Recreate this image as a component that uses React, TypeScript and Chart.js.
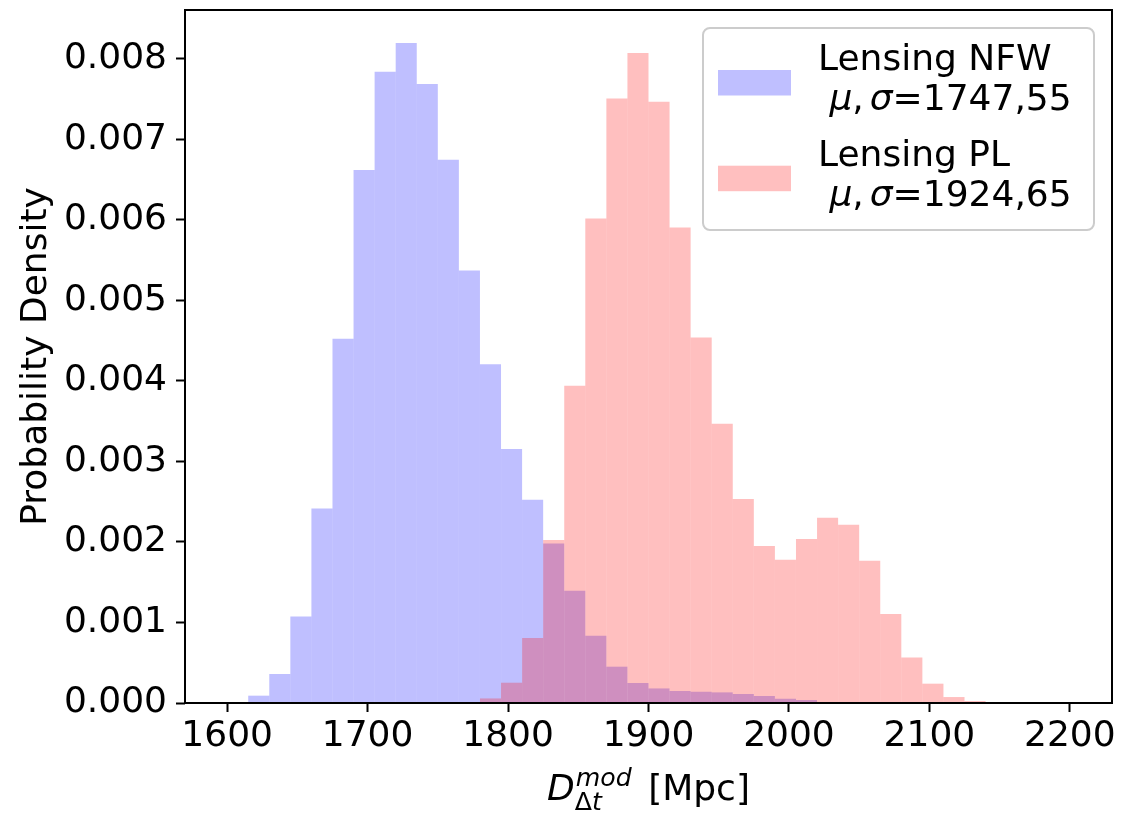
import { useEffect, useRef } from 'react';
import { Chart, registerables } from 'chart.js';

Chart.register(...registerables);

const FF = 'DejaVu Sans';

// Histogram binning: 40 equal bins of 15 Mpc covering 1600–2200 Mpc
const HIST_MIN = 1600;
const HIST_MAX = 2200;
const BIN_WIDTH = 15;

// Lensing NFW densities, first filled bin is index 1 (1615–1630 Mpc)
const NFW_FIRST_BIN = 1;
const nfwDensity = [
  0.000091, 0.00036, 0.001075, 0.002416, 0.004523, 0.006618, 0.007838, 0.008195,
  0.007686, 0.006746, 0.005371, 0.004207, 0.003154, 0.002524, 0.001982, 0.001394,
  0.000836, 0.000451, 0.000248, 0.000181, 0.000149, 0.00014, 0.000132, 0.000112,
  0.000087, 0.000053, 0.000037,
];

// Lensing PL densities, first filled bin is index 12 (1780–1795 Mpc)
const PL_FIRST_BIN = 12;
const plDensity = [
  0.000057, 0.000252, 0.000807, 0.002024, 0.00394, 0.006017, 0.007507, 0.008071,
  0.007466, 0.005905, 0.004539, 0.003468, 0.002533, 0.001949, 0.001779, 0.002036,
  0.002301, 0.002214, 0.001767, 0.001105, 0.000566, 0.00024, 0.000074, 0.000025,
];

const xTicks = [1600, 1700, 1800, 1900, 2000, 2100, 2200];
const yTicks = [0, 0.001, 0.002, 0.003, 0.004, 0.005, 0.006, 0.007, 0.008];

const seriesNames = ['Lensing NFW', 'Lensing PL'];
const seriesStats = ['1747,55', '1924,65'];
const seriesColors = ['rgba(0, 0, 255, 0.25)', 'rgba(255, 0, 0, 0.25)'];

const FONT_SIZE = 36;

function drawLegend(ctx: CanvasRenderingContext2D, a: any) {
  const right = a.right - 18;
  const top = a.top + 18;
  const w = 391;
  const h = 202;
  const left = right - w;
  ctx.save();
  ctx.beginPath();
  ctx.roundRect(left, top, w, h, 7);
  ctx.fillStyle = 'rgba(255,255,255,0.8)';
  ctx.fill();
  ctx.lineWidth = 2;
  ctx.strokeStyle = '#cccccc';
  ctx.stroke();

  ctx.textBaseline = 'alphabetic';
  ctx.textAlign = 'left';
  seriesNames.forEach((name, i) => {
    const y1 = top + 42 + i * 95.7;
    const y2 = y1 + 40;
    ctx.fillStyle = seriesColors[i];
    ctx.fillRect(left + 15, y1, 73, 25.5);

    const tx = left + 115;
    ctx.fillStyle = '#000';
    ctx.font = `${FONT_SIZE}px ${FF}`;
    ctx.fillText(name, tx, y1);

    // second line: " μ,σ=value"
    let x = tx + ctx.measureText(' ').width;
    ctx.font = `italic ${FONT_SIZE}px ${FF}`;
    ctx.fillText('μ', x, y2);
    x += ctx.measureText('μ').width;
    ctx.font = `${FONT_SIZE}px ${FF}`;
    ctx.fillText(',', x, y2);
    x += ctx.measureText(',').width + 6;
    ctx.font = `italic ${FONT_SIZE}px ${FF}`;
    ctx.fillText('σ', x, y2);
    x += ctx.measureText('σ').width;
    ctx.font = `${FONT_SIZE}px ${FF}`;
    ctx.fillText('=' + seriesStats[i], x, y2);
  });
  ctx.restore();
}

function drawAxisTitles(ctx: CanvasRenderingContext2D, a: any) {
  ctx.save();
  ctx.fillStyle = '#000';
  ctx.textBaseline = 'alphabetic';
  ctx.textAlign = 'left';

  // x title: D_{Δt}^{mod} [Mpc]
  const big = FONT_SIZE;
  const small = FONT_SIZE * 0.7;
  const base = a.bottom + 97;
  ctx.font = `italic ${big}px ${FF}`;
  const wD = ctx.measureText('D').width;
  ctx.font = `italic ${small}px ${FF}`;
  const wSup = ctx.measureText('mod').width;
  const wT = ctx.measureText('t').width;
  ctx.font = `${small}px ${FF}`;
  const wDelta = ctx.measureText('Δ').width;
  const wScript = Math.max(wSup, wDelta + wT);
  ctx.font = `${big}px ${FF}`;
  const unit = ' [Mpc]';
  const wUnit = ctx.measureText(unit).width;
  const gap = 6;
  const total = wD + wScript + gap + wUnit;
  let x = (a.left + a.right) / 2 - total / 2;

  ctx.font = `italic ${big}px ${FF}`;
  ctx.fillText('D', x, base);
  x += wD;
  ctx.font = `italic ${small}px ${FF}`;
  ctx.fillText('mod', x + 1, base - 14);
  ctx.font = `${small}px ${FF}`;
  ctx.fillText('Δ', x, base + 10);
  ctx.font = `italic ${small}px ${FF}`;
  ctx.fillText('t', x + wDelta, base + 10);
  x += wScript + gap;
  ctx.font = `${big}px ${FF}`;
  ctx.fillText(unit, x, base);

  // y title
  ctx.translate(a.left - 139, (a.top + a.bottom) / 2);
  ctx.rotate(-Math.PI / 2);
  ctx.textAlign = 'center';
  ctx.font = `${big}px ${FF}`;
  ctx.fillText('Probability Density', 0, 0);
  ctx.restore();
}

const decorPlugin = {
  id: 'decor',
  afterDatasetsDraw(chart: any) {
    const { ctx, chartArea: a } = chart;
    ctx.save();
    ctx.strokeStyle = '#000';
    ctx.lineWidth = 2;
    ctx.strokeRect(a.left, a.top, a.right - a.left, a.bottom - a.top);
    ctx.restore();
    drawLegend(ctx, a);
    drawAxisTitles(ctx, a);
  },
};

export default function App() {
  const canvasRef = useRef<HTMLCanvasElement>(null);

  useEffect(() => {
    document.body.style.margin = '0';
    const canvas = canvasRef.current;
    if (!canvas) return;

    const toPoints = (first: number, vals: number[]) =>
      vals.map((v, i) => ({ x: HIST_MIN + (first + i + 0.5) * BIN_WIDTH, y: v }));

    const yMax = 1.05 * Math.max(...nfwDensity, ...plDensity);
    const xPad = 0.05 * (HIST_MAX - HIST_MIN);

    const tickFont = { size: FONT_SIZE, family: FF };
    const gridCfg = {
      display: true,
      drawOnChartArea: false,
      drawTicks: true,
      tickLength: 9,
      tickWidth: 2,
      tickColor: '#000',
      offset: false,
    };

    const barStyle = {
      borderWidth: 0,
      grouped: false,
      barPercentage: 1,
      categoryPercentage: 1,
      inflateAmount: 0,
    };

    const chart = new Chart(canvas, {
      type: 'bar',
      data: {
        datasets: [
          {
            label: seriesNames[0],
            data: toPoints(NFW_FIRST_BIN, nfwDensity),
            backgroundColor: seriesColors[0],
            ...barStyle,
            order: 1,
          },
          {
            label: seriesNames[1],
            data: toPoints(PL_FIRST_BIN, plDensity),
            backgroundColor: seriesColors[1],
            ...barStyle,
            order: 0,
          },
        ] as any,
      },
      options: {
        responsive: false,
        animation: false,
        events: [],
        layout: { padding: { top: 10, right: 9, left: 0, bottom: 0 } },
        plugins: { legend: { display: false }, tooltip: { enabled: false } },
        scales: {
          x: {
            type: 'linear',
            min: HIST_MIN - xPad,
            max: HIST_MAX + xPad,
            offset: false,
            grid: gridCfg,
            border: { display: false },
            afterBuildTicks: (s: any) => {
              s.ticks = xTicks.map((v) => ({ value: v }));
            },
            afterFit: (s: any) => {
              s.height = 110;
              s.paddingLeft = 0;
              s.paddingRight = 0;
            },
            ticks: {
              autoSkip: false,
              maxRotation: 0,
              minRotation: 0,
              padding: 3,
              color: '#000',
              font: tickFont,
              callback: (v: any) => String(v),
            },
          },
          y: {
            type: 'linear',
            min: 0,
            max: yMax,
            grid: gridCfg,
            border: { display: false },
            afterBuildTicks: (s: any) => {
              s.ticks = yTicks.map((v) => ({ value: v }));
            },
            afterFit: (s: any) => {
              s.width = 185;
              s.paddingTop = 0;
              s.paddingBottom = 0;
            },
            ticks: {
              autoSkip: false,
              padding: 9,
              color: '#000',
              font: tickFont,
              callback: (v: any) => Number(v).toFixed(3),
            },
          },
        },
      } as any,
      plugins: [decorPlugin],
    });

    return () => chart.destroy();
  }, []);

  return <canvas ref={canvasRef} width={1121} height={813} style={{ display: 'block' }} />;
}
